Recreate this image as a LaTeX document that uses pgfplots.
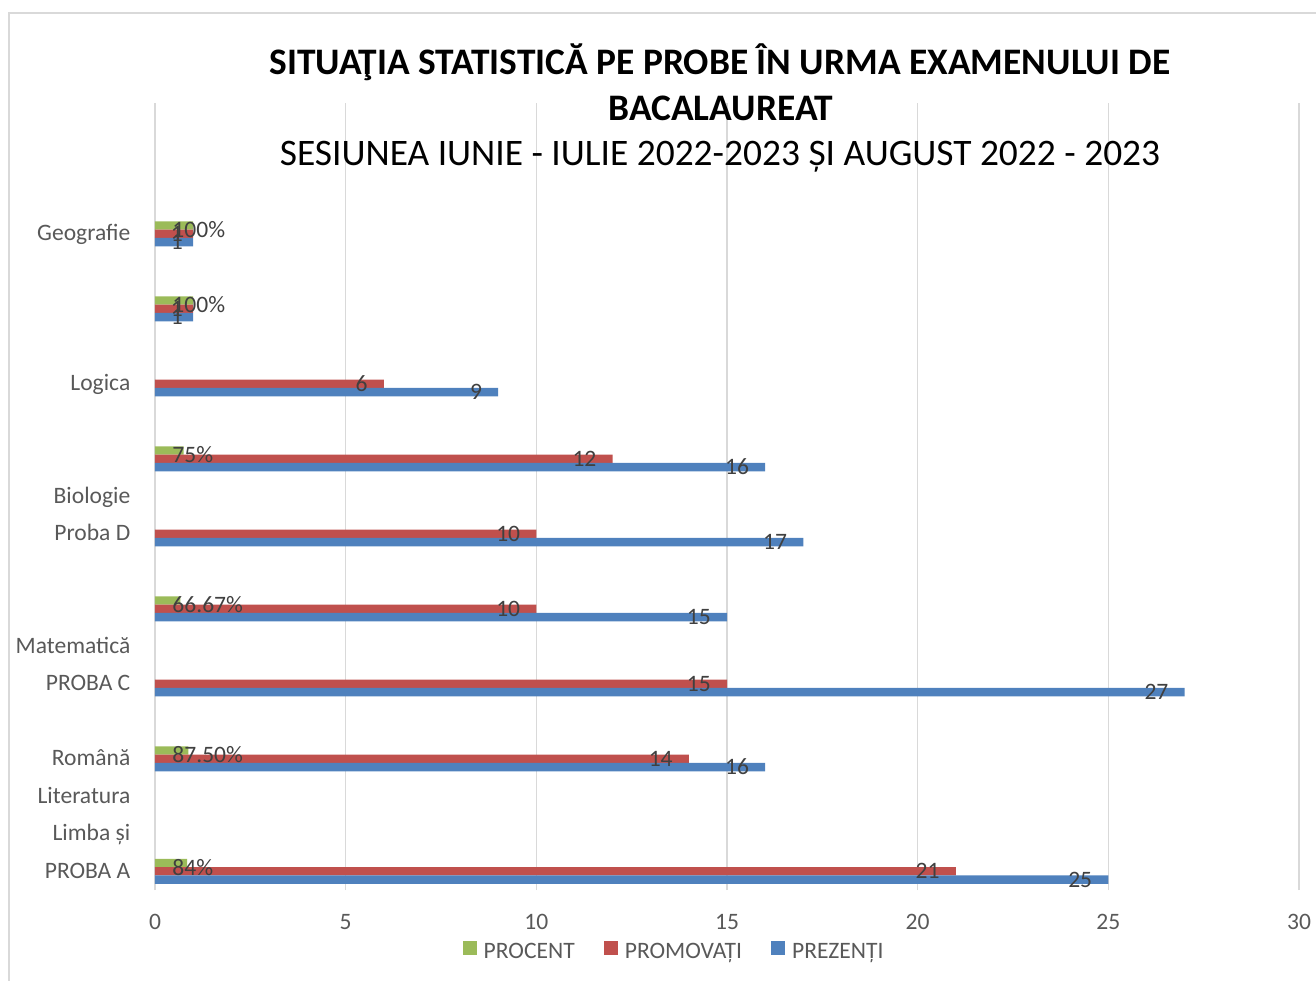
\documentclass[border=0pt]{standalone}
\usepackage{fontspec}
\setmainfont{Carlito}
\usepackage{pgfplots}
\pgfplotsset{compat=1.18}
\definecolor{cgreen}{HTML}{9BBB59}
\definecolor{cred}{HTML}{C0504D}
\definecolor{cblue}{HTML}{4F81BD}
\definecolor{cgrid}{HTML}{D9D9D9}
\definecolor{ctick}{HTML}{595959}
\definecolor{clab}{HTML}{404040}
\newcommand{\sm}{\fontsize{6.7}{8}\selectfont}
\begin{document}
\begin{tikzpicture}
\useasboundingbox (0,0) rectangle (13.16,9.8);
\draw[cgrid, line width=0.02cm] (0.09,9.67) rectangle (14,-1);
\begin{axis}[
  at={(1.55cm,0.90cm)}, anchor=south west,
  scale only axis, width=11.44cm, height=7.875cm,
  xmin=0, xmax=30, ymin=-0.5, ymax=20.5,
  xtick={0,5,...,30},
  ytick={0,1,2,3,5,6,9,10,13,17},
  yticklabels={PROBA A,Limba și,Literatura,Română,PROBA C,Matematică,Proba D,Biologie,Logica,Geografie},
  xmajorgrids, major grid style={cgrid, line width=0.015cm},
  axis line style={draw=none},
  major tick length=0pt,
  tick label style={font=\sm, text=ctick, inner sep=0pt},
  yticklabel style={anchor=base east, xshift=-0.24cm, yshift=-0.07cm},
  xticklabel style={yshift=-0.235cm},
  /pgf/number format/assume math mode=true,
  legend columns=3,
  legend style={at={(0.456,-0.0805)}, anchor=center, draw=none, fill=none,
    font=\sm, text=ctick,
    /tikz/every even column/.append style={column sep=0.22cm}},
  legend image code/.code={\fill[#1] (0cm,-0.012cm) rectangle (0.14cm,0.128cm);},
  visualization depends on={rawx \as \myx},
  every node near coord/.append style={font=\sm, text=clab, inner sep=0pt, anchor=east,
    xshift={(\myx<2)*0.06cm-0.155cm}},
]
\addplot[xbar, bar width=0.0833cm, bar shift=0.0833cm, fill=cgreen, draw=none] coordinates {
  (0.84,0) (0.875,3) (0.6667,7) (0.75,11) (1,15) (1,17)};
\addplot[xbar, bar width=0.0833cm, bar shift=0cm, fill=cred, draw=none, nodes near coords] coordinates {
  (21,0) (14,3) (15,5) (10,7) (10,9) (12,11) (6,13) (1,15) (1,17)};
\addplot[xbar, bar width=0.0833cm, bar shift=-0.0833cm, fill=cblue, draw=none, nodes near coords,
  every node near coord/.append style={yshift=-0.083cm}] coordinates {
  (25,0) (16,3) (27,5) (15,7) (17,9) (16,11) (9,13) (1,15) (1,17)};
\legend{PROCENT, PROMOVAȚI, PREZENȚI}
\begin{scope}[every node/.style={anchor=west, inner sep=0pt, font=\sm, text=clab, yshift=0.04cm}]
\node at (axis cs:0.44,0) {84\%};
\node at (axis cs:0.44,3) {87.50\%};
\node at (axis cs:0.44,7) {66.67\%};
\node at (axis cs:0.44,11) {75\%};
\node at (axis cs:0.44,15) {100\%};
\node at (axis cs:0.44,17) {100\%};
\end{scope}
\end{axis}
\node[anchor=base, font=\bfseries\fontsize{10.65}{12}\selectfont] at (7.20,9.06) {SITUAŢIA STATISTICĂ PE PROBE ÎN URMA EXAMENULUI DE};
\node[anchor=base, font=\bfseries\fontsize{10.65}{12}\selectfont] at (7.21,8.60) {BACALAUREAT};
\node[anchor=base, font=\fontsize{10.65}{12}\selectfont] at (7.20,8.15) {SESIUNEA IUNIE - IULIE 2022-2023 ȘI AUGUST 2022 - 2023};
\end{tikzpicture}
\end{document}
